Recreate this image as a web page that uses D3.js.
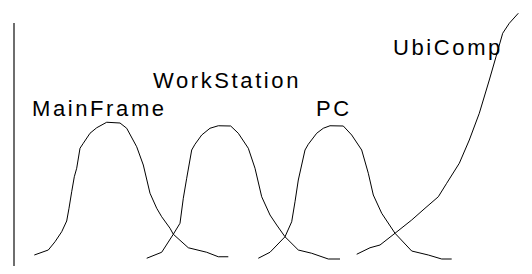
<!DOCTYPE html>
<html>
<head>
<meta charset="utf-8">
<script src="https://cdn.jsdelivr.net/npm/d3@7"></script>
<style>
  html, body { margin: 0; padding: 0; background: #fff; }
  svg { display: block; }
</style>
</head>
<body>
<svg id="chart" width="532" height="274"></svg>
<script>
// Eras of computing (adoption curves)
const eras = ["MainFrame", "WorkStation", "PC", "UbiComp"];

const mainframeT = [4.06, 6.86, 8.2, 9.54, 10.54, 11.0, 11.54, 12.06, 12.54, 13.2, 13.86, 15.2, 16.54, 18.54, 21.2, 22.54, 24.54, 25.86, 27.2, 28.54, 29.54, 31.2, 31.86, 34.86, 38.54, 40.86, 42.86];
const mainframeV = [4.0, 6.0, 9.3, 13.3, 17.6, 22.7, 29.3, 35.3, 38.7, 46.7, 48.7, 52.7, 54.9, 57.1, 56.8, 54.7, 47.3, 40, 28.7, 22.7, 19.3, 14.7, 12.3, 6.9, 5.1, 3.3, 3.3];

const workstationT = [26.54, 29.54, 31.86, 33.2, 33.86, 34.54, 35.54, 36.2, 37.54, 39.2, 40.86, 43.34, 44.86, 46.86, 48.2, 49.54, 51.2, 52.54, 54.2, 56.86, 59.54, 62.86, 65.2];
const workstationV = [2.7, 5.1, 12.3, 16.7, 26.7, 34.7, 46, 48.3, 52, 54.7, 55.7, 55.6, 52.7, 46.7, 38.7, 27.3, 20, 16, 11.3, 6, 4.7, 2.4, 2.4];

const pcT = [48.86, 51.2, 54.2, 55.54, 56.2, 56.86, 58.2, 58.86, 60.54, 61.86, 63.2, 65.86, 67.54, 69.54, 70.86, 71.86, 73.54, 76.2, 79.54, 82.86, 85.54, 87.54];
const pcV = [2.7, 5.1, 11.3, 17.3, 25.3, 34, 46, 48.3, 52.7, 54.7, 55.7, 55.6, 52, 46, 36.7, 28, 20.7, 12.7, 5.6, 4, 2.4, 2.4];

const ubicompT = [68.54, 71.2, 73.2, 76.2, 79.54, 82.2, 84.86, 86.54, 89.06, 91.06, 93.06, 95.06, 96.4, 97.74, 99.06, 100.86];
const ubicompV = [4.3, 6.9, 8, 12.7, 18, 22.7, 27.3, 32.7, 40.7, 50, 60.7, 74, 83.3, 92.7, 96.7, 100.7];

// label anchor points (data units)
const labelT = [3.6, 27.8, 60.4, 75.8];
const labelV = [59.6, 70.8, 59.6, 84.2];

const seriesT = [mainframeT, workstationT, pcT, ubicompT];
const seriesV = [mainframeV, workstationV, pcV, ubicompV];

const svg = d3.select("#chart");
const x = d3.scaleLinear().domain([0, 100]).range([14, 514]);
const y = d3.scaleLinear().domain([0, 100]).range([265, 15]);

// vertical axis line (no ticks)
const yAxis = d3.axisLeft(y).tickValues([]).tickSizeOuter(0);
const axisG = svg.append("g")
  .attr("transform", `translate(${x(0)},0)`)
  .call(yAxis);
axisG.select(".domain")
  .attr("stroke", "#6e6e6e")
  .attr("stroke-width", 2)
  .attr("d", `M0,${y(-0.4)}V${y(96.8)}`);

const line = d3.line()
  .x(d => x(d[0]))
  .y(d => y(d[1]));

eras.forEach((name, i) => {
  const pts = seriesT[i].map((t, j) => [t, seriesV[i][j]]);
  svg.append("path")
    .datum(pts)
    .attr("fill", "none")
    .attr("stroke", "#000")
    .attr("stroke-width", 1)
    .attr("stroke-linejoin", "round")
    .attr("d", line);
});

svg.selectAll("text.era")
  .data(eras)
  .enter()
  .append("text")
  .attr("class", "era")
  .attr("x", (d, i) => x(labelT[i]))
  .attr("y", (d, i) => y(labelV[i]))
  .attr("font-family", "'Liberation Sans', Arial, sans-serif")
  .attr("font-size", 22)
  .attr("letter-spacing", "2.6px")
  .attr("fill", "#000")
  .text(d => d);
</script>
</body>
</html>
